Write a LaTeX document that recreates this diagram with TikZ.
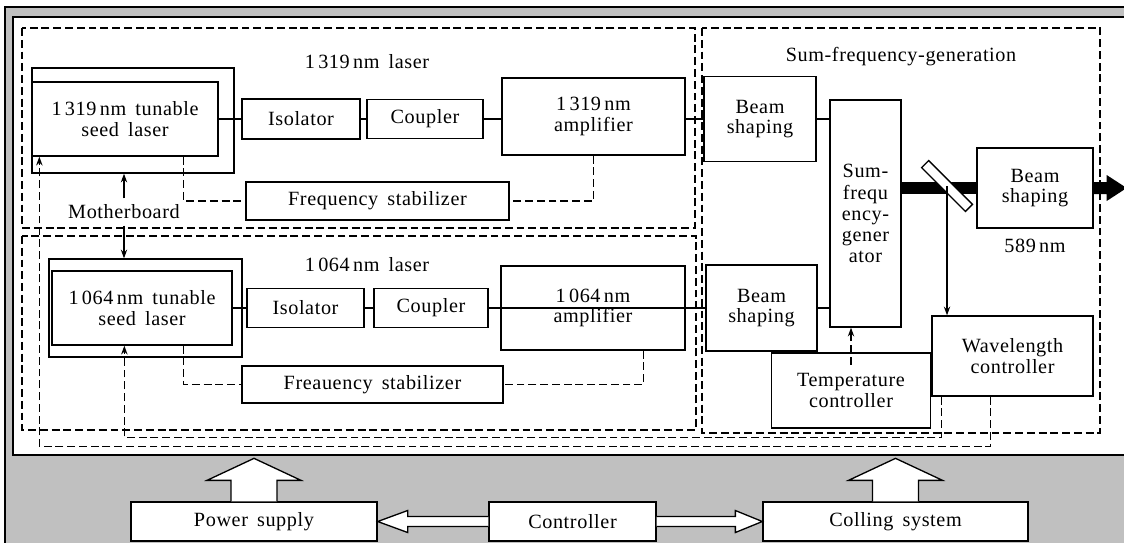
\documentclass[tikz,border=0pt]{standalone}
\usepackage{fontspec}
\setmainfont{Liberation Serif}[LetterSpace=3,WordSpace=1.6]
\usetikzlibrary{arrows.meta,calc}
\definecolor{panelgray}{RGB}{192,192,192}
\tikzset{
  blk/.style 2 args = {draw, fill = white, inner sep = 0pt, align = center,
    minimum width = #1*0.02cm, minimum height = #2*0.02cm},
  grp/.style = {draw, dash pattern = on 4.5pt off 2.2pt},
  fatarrow/.style = {draw, fill = white}
}
\begin{document}
\begin{tikzpicture}[x = 0.02cm, y = -0.02cm, line width = 0.75pt,
    font = \fontsize{11.5}{11.5}\selectfont, >={Stealth[length = 5pt, width = 3.6pt]}]
  \useasboundingbox (0, 0) rectangle (1124, 542);
  % panels
  \draw [fill = panelgray] (5, 7) rectangle (1140, 560);
  \draw [fill = white] (13, 17) rectangle (1140, 455);
  \draw [grp] (22, 28) rectangle (695, 228);
  \draw [grp] (22, 236) rectangle (696, 430);
  \draw [grp] (702, 28) rectangle (1100, 433);
  \node (t1319) at (367, 62) {1\,319\,nm laser};
  \node (t1064) at (367, 265) {1\,064\,nm laser};
  \node (tsfg) at (901, 57) {Sum-frequency-generation};

  % 1319 nm laser
  \node (mb1) at (133, 120.5) [blk = {202}{105}] {};
  \node (seed1) at (125, 119) [blk = {186}{74}] {1\,319\,nm tunable\\seed laser};
  \node (iso1) at (301, 119) [blk = {118}{40}] {Isolator};
  \node (cpl1) at (425, 119) [blk = {116}{39}] {Coupler};
  \node (amp1) at (593.5, 116.5) [blk = {183}{77}] {1\,319\,nm\\amplifier};
  \node (fs1) at (377.5, 201) [blk = {263}{38}] {Frequency stabilizer};
  \node (mbtxt) at (124, 212) {Motherboard};

  % 1064 nm laser
  \node (mb2) at (145.5, 308) [blk = {193}{98}] {};
  \node (seed2) at (142, 308) [blk = {180}{74}] {1\,064\,nm tunable\\seed laser};
  \node (iso2) at (305.5, 308) [blk = {117}{39}] {Isolator};
  \node (cpl2) at (431, 308) [blk = {114}{39}] {Coupler};
  \node (amp2) at (593, 308) [blk = {184}{84}] {1\,064\,nm\\amplifier};
  \node (fs2) at (372.5, 384.5) [blk = {261}{37}] {Freauency stabilizer};

  % sum frequency generation
  \node (bs1) at (760, 119) [blk = {112}{85}] {Beam\\shaping};
  \node (bs2) at (761.5, 308) [blk = {111}{86}] {Beam\\shaping};
  \node (sfg) at (865.5, 213.5) [blk = {71}{227}, font = \fontsize{11.5}{12}\selectfont] {Sum-\\frequ\\ency-\\gener\\ator};
  \node (bs3) at (1035, 188) [blk = {116}{80}] {Beam\\shaping};
  \node (t589) at (1035, 246) {589\,nm};
  \node (wc) at (1012.5, 356) [blk = {161}{80}] {Wavelength\\controller};
  \node (tc) at (851, 390.5) [blk = {159}{75}] {Temperature\\controller};

  % power, control, cooling
  \node (ps) at (254, 521.5) [blk = {246}{39}] {Power supply};
  \node (ctl) at (572.5, 521.5) [blk = {167}{39}] {Controller};
  \node (cs) at (895.5, 521.5) [blk = {265}{39}] {Colling system};

  % optical path
  \draw (seed1) -- (iso1) -- (cpl1);
  \draw (cpl1.east) -- (cpl1.east -| amp1.west);
  \draw (amp1.east |- cpl1.east) -- (cpl1.east -| bs1.west);
  \draw (bs1.east) -- (bs1.east -| sfg.west);
  \draw (seed2) -- (iso2) -- (cpl2);
  \draw (cpl2.east) -- (bs2.west);
  \draw (bs2.east) -- (bs2.east -| sfg.west);
  \draw [line width = 0.24cm] (sfg.east |- bs3.west) -- (bs3.west);
  \fill ($(bs3.east) + (0, -6)$) -- ++(13, 0) -- ++(0, -7) -- ($(bs3.east) + (33, 0)$)
    -- ($(bs3.east) + (13, 13)$) -- ++(0, -7) -- ($(bs3.east) + (0, 6)$) -- cycle;
  \node (mirror) at (947, 186) [draw, fill = white, inner sep = 0pt, rotate = -45,
    minimum width = 62*0.02cm, minimum height = 10*0.02cm] {};
  \draw [->] (mirror.center) -- (mirror.center |- wc.north);

  % motherboard
  \draw [->] (mbtxt.north) -- (mbtxt.north |- mb1.south);
  \draw [->] (mbtxt.south) -- (mbtxt.south |- mb2.north);

  % feedback lines
  \draw [grp] ($(seed1.south east) + (-35, 0)$) |- (fs1.west);
  \draw [grp] (amp1.south) |- (fs1.east);
  \draw [grp] ($(seed2.south east) + (-49, 0)$) |- (fs2.west);
  \draw [grp] ($(amp2.south east) + (-42, 0)$) |- (fs2.east);
  \draw [grp, ->] ([yshift = -7pt]tc.north) -- (tc.north |- sfg.south);
  \draw [grp, ->] ($(wc.south west) + (59, 0)$) -- ++(0, 50) -| ($(seed1.south west) + (8, 0)$);
  \draw [grp, ->] ($(wc.south west) + (10, 0)$) -- ++(0, 41) -| ($(seed2.south west) + (73, 0)$);

  % block arrows
  \draw [fatarrow] ($(ps.north) + (-23, 0)$) -- ++(0, -21) -- ++(-24, 0) -- ($(ps.north) + (0, -43)$)
    -- ($(ps.north) + (47, -21)$) -- ++(-24, 0) -- ($(ps.north) + (23, 0)$);
  \draw [fatarrow] ($(cs.north) + (-23, 0)$) -- ++(0, -21) -- ++(-24, 0) -- ($(cs.north) + (0, -43)$)
    -- ($(cs.north) + (47, -21)$) -- ++(-24, 0) -- ($(cs.north) + (23, 0)$);
  \draw [fatarrow] ($(ctl.west) + (0, -5)$) -- ($(ps.east) + (30, -5)$) -- ($(ps.east) + (30, -11)$)
    -- (ps.east) -- ($(ps.east) + (30, 11)$) -- ($(ps.east) + (30, 5)$) -- ($(ctl.west) + (0, 5)$);
  \draw [fatarrow] ($(ctl.east) + (0, -5)$) -- ($(cs.west) + (-27, -5)$) -- ($(cs.west) + (-27, -11)$)
    -- (cs.west) -- ($(cs.west) + (-27, 11)$) -- ($(cs.west) + (-27, 5)$) -- ($(ctl.east) + (0, 5)$);
\end{tikzpicture}
\end{document}
